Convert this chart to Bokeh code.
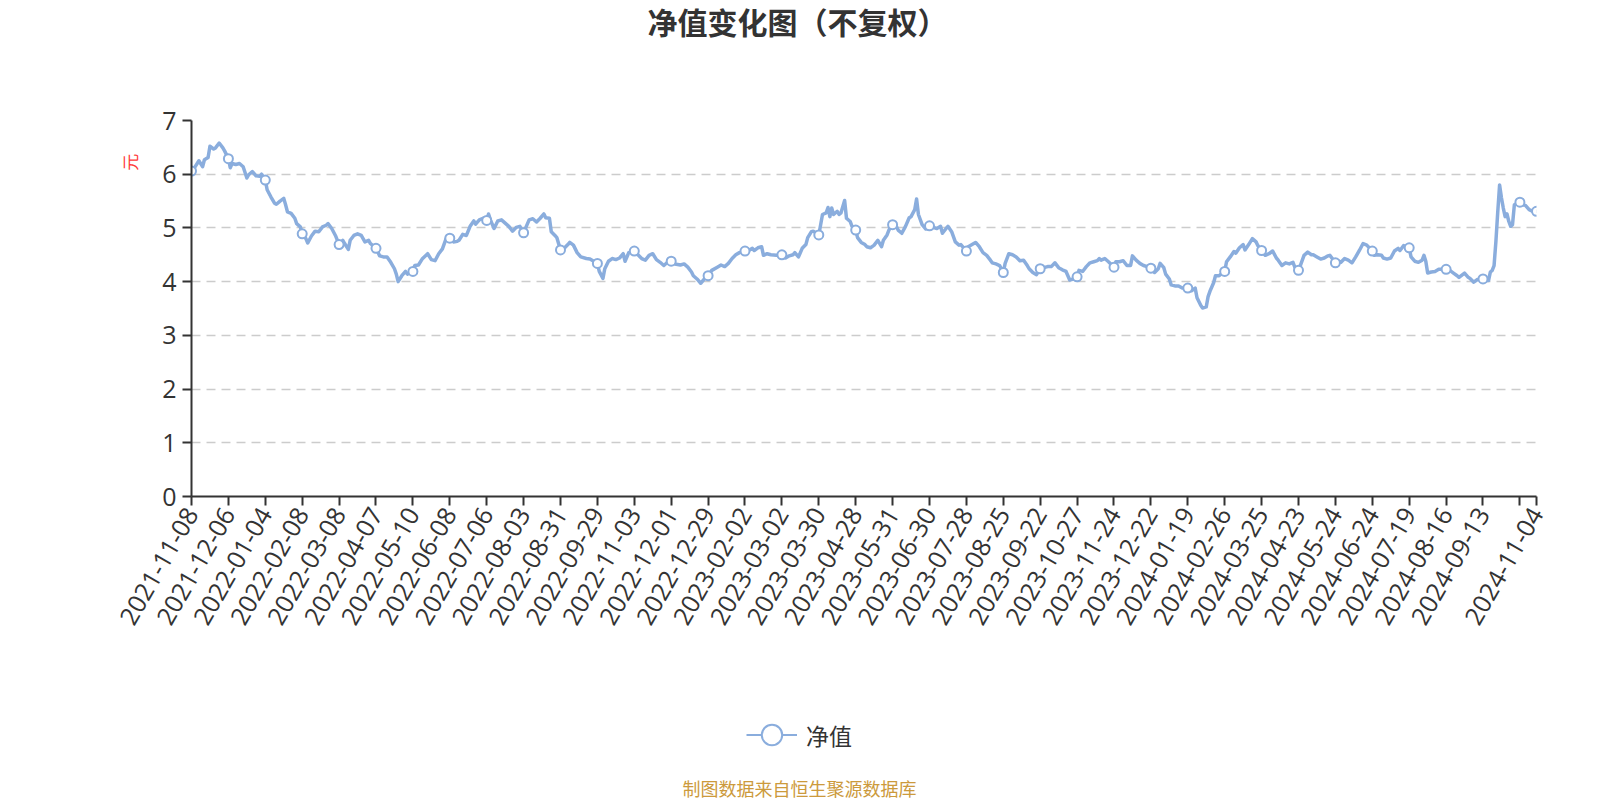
import math
from bokeh.plotting import figure
from bokeh.layouts import column
from bokeh.models import FixedTicker, Label, Legend, LegendItem, Range1d, LinearAxis
from bokeh.embed import file_html
from bokeh.resources import INLINE

title_text = "净值变化图（不复权）"
series_name = "净值"
y_unit = "元"
source_note = "制图数据来自恒生聚源数据库"

# trading-day index of each sampled point and the net value read there
day_index = [
    0, 2, 4, 6, 7, 9, 10, 12, 13, 15, 17, 18, 20, 21, 22, 24, 26, 28, 30, 31, 33, 35, 37, 38,
    40, 41, 43, 45, 46, 48, 50, 51, 52, 54, 56, 57, 59, 60, 62, 63, 65, 67, 69, 71, 73, 74, 76, 78,
    80, 82, 83, 85, 86, 88, 90, 92, 94, 96, 97, 100, 102, 104, 106, 108, 110, 111, 112, 114, 116, 117,
    120, 121, 123, 125, 128, 130, 132, 134, 136, 138, 140, 142, 144, 145, 147, 149, 151, 153, 154, 156, 158,
    160, 161, 162, 164, 166, 168, 170, 172, 174, 176, 178, 180, 182, 183, 185, 187, 189, 191, 192, 194, 195, 197, 198,
    200, 202, 204, 205, 207, 209, 211, 214, 216, 218, 220, 221, 223, 224, 226, 228, 230, 232, 234, 235, 237,
    240, 242, 244, 246, 248, 250, 252, 254, 256, 258, 260, 262, 265, 267, 269, 271, 272, 274, 276, 278,
    280, 282, 285, 287, 289, 291, 293, 295, 297, 300, 302, 304, 305, 307, 309, 310, 312, 314, 317,
    320, 322, 324, 326, 327, 329, 331, 333, 334, 336, 337, 340, 341, 342, 344, 345, 346, 347, 348, 350, 351, 352, 354, 355, 357, 358,
    360, 361, 363, 365, 366, 368, 370, 372, 374, 375, 377, 378, 380, 382, 383, 385, 387, 389, 390, 392, 393, 394, 396, 398,
    400, 402, 404, 406, 407, 409, 410, 412, 414, 416, 417, 420, 421, 424, 425, 427, 429, 431, 433, 434, 436, 438,
    440, 441, 443, 445, 447, 449, 451, 453, 454, 456, 458, 460, 462, 464, 466, 468, 470, 472, 474, 476, 478,
    480, 481, 483, 485, 487, 489, 491, 492, 493, 495, 497, 500, 501, 503, 505, 507, 509, 510, 512, 514, 516, 518,
    520, 522, 524, 525, 527, 528, 530, 531, 533, 535, 537, 540, 542, 544, 545, 547, 548, 550, 551, 552, 554, 555, 557,
    560, 561, 563, 565, 566, 568, 570, 571, 573, 575, 577, 578, 580, 582, 584, 586, 588, 589, 591, 593, 595, 597, 598,
    600, 601, 603, 605, 607, 608, 610, 612, 614, 616, 617, 620, 622, 623, 625, 627, 629, 631, 633, 635, 637,
    640, 641, 643, 645, 646, 648, 650, 652, 654, 655, 657, 660, 661, 663, 665, 667, 668, 669, 670, 672, 674, 676,
    680, 682, 684, 686, 687, 690, 692, 693, 695, 697, 700, 701, 703, 704, 705, 706, 707, 708, 709, 710, 711, 712,
    713, 714, 715, 716, 717, 720, 721, 723, 725, 727, 729,
]
nav = [
    6.06, 6.14, 6.25, 6.14, 6.27, 6.31, 6.52, 6.47, 6.49, 6.58, 6.49, 6.43, 6.29, 6.12, 6.20, 6.18, 6.20, 6.14, 5.93, 5.99, 6.05, 5.97, 5.96, 6.00,
    5.89, 5.71, 5.58, 5.46, 5.44, 5.50, 5.55, 5.43, 5.30, 5.27, 5.18, 5.08, 5.02, 4.89, 4.80, 4.72, 4.85, 4.94, 4.93, 5.02, 5.05, 5.08, 4.99, 4.86,
    4.69, 4.77, 4.71, 4.60, 4.77, 4.86, 4.89, 4.86, 4.74, 4.77, 4.71, 4.62, 4.48, 4.46, 4.46, 4.36, 4.24, 4.14, 4.00, 4.11, 4.19, 4.14,
    4.19, 4.30, 4.31, 4.42, 4.52, 4.41, 4.39, 4.52, 4.61, 4.80, 4.81, 4.74, 4.75, 4.77, 4.88, 4.86, 5.03, 5.13, 5.07, 5.15, 5.18,
    5.14, 5.26, 5.15, 4.99, 5.13, 5.15, 5.09, 5.03, 4.94, 5.01, 5.03, 4.91, 5.07, 5.15, 5.17, 5.11, 5.18, 5.26, 5.19, 5.18, 4.93, 4.86, 4.82,
    4.59, 4.62, 4.69, 4.73, 4.68, 4.54, 4.46, 4.43, 4.42, 4.38, 4.34, 4.19, 4.06, 4.24, 4.38, 4.43, 4.41, 4.44, 4.52, 4.38, 4.54,
    4.57, 4.50, 4.43, 4.40, 4.49, 4.52, 4.41, 4.36, 4.30, 4.36, 4.38, 4.33, 4.31, 4.33, 4.27, 4.18, 4.11, 4.05, 3.97, 4.05,
    4.11, 4.21, 4.27, 4.31, 4.28, 4.34, 4.43, 4.50, 4.54, 4.57, 4.58, 4.62, 4.58, 4.63, 4.65, 4.49, 4.52, 4.50, 4.49,
    4.50, 4.44, 4.48, 4.50, 4.54, 4.46, 4.62, 4.69, 4.82, 4.93, 4.94, 4.87, 5.06, 5.25, 5.28, 5.38, 5.21, 5.37, 5.25, 5.31, 5.25, 5.28, 5.51, 5.18, 5.12, 5.03,
    4.96, 4.82, 4.73, 4.69, 4.65, 4.63, 4.68, 4.77, 4.65, 4.77, 4.87, 4.96, 5.06, 5.03, 4.96, 4.90, 5.03, 5.19, 5.21, 5.34, 5.54, 5.25, 5.06, 4.98,
    5.04, 5.01, 4.99, 5.03, 4.90, 4.99, 5.03, 4.93, 4.74, 4.68, 4.69, 4.57, 4.65, 4.71, 4.73, 4.65, 4.54, 4.49, 4.40, 4.35, 4.33, 4.30,
    4.17, 4.34, 4.52, 4.50, 4.46, 4.39, 4.40, 4.30, 4.24, 4.17, 4.13, 4.24, 4.26, 4.28, 4.28, 4.35, 4.26, 4.22, 4.19, 4.03, 4.05,
    4.09, 4.21, 4.19, 4.28, 4.35, 4.37, 4.39, 4.43, 4.40, 4.43, 4.37, 4.27, 4.37, 4.37, 4.39, 4.30, 4.30, 4.48, 4.40, 4.34, 4.30, 4.28,
    4.25, 4.17, 4.24, 4.34, 4.26, 4.14, 4.05, 3.94, 3.92, 3.92, 3.88, 3.88, 3.83, 3.88, 3.70, 3.56, 3.51, 3.53, 3.72, 3.82, 3.98, 4.11, 4.11,
    4.19, 4.37, 4.46, 4.56, 4.53, 4.63, 4.69, 4.59, 4.69, 4.80, 4.74, 4.67, 4.58, 4.49, 4.52, 4.57, 4.44, 4.40, 4.30, 4.35, 4.33, 4.36, 4.27,
    4.21, 4.30, 4.49, 4.55, 4.50, 4.50, 4.46, 4.42, 4.44, 4.48, 4.49, 4.35, 4.38, 4.36, 4.43, 4.40, 4.35, 4.46, 4.58, 4.71, 4.68,
    4.57, 4.49, 4.50, 4.49, 4.44, 4.42, 4.44, 4.57, 4.62, 4.58, 4.67, 4.63, 4.46, 4.38, 4.36, 4.40, 4.49, 4.38, 4.16, 4.18, 4.19, 4.23,
    4.23, 4.21, 4.16, 4.11, 4.08, 4.16, 4.08, 4.06, 3.99, 4.04, 4.05, 4.02, 4.02, 4.18, 4.21, 4.30, 4.75, 5.30, 5.80, 5.56, 5.37, 5.21,
    5.26, 5.12, 5.03, 5.06, 5.43, 5.48, 5.43, 5.42, 5.34, 5.31, 5.31,
]

tick_labels = [
    "2021-11-08", "2021-12-06", "2022-01-04", "2022-02-08", "2022-03-08", "2022-04-07",
    "2022-05-10", "2022-06-08", "2022-07-06", "2022-08-03", "2022-08-31", "2022-09-29",
    "2022-11-03", "2022-12-01", "2022-12-29", "2023-02-02", "2023-03-02", "2023-03-30",
    "2023-04-28", "2023-05-31", "2023-06-30", "2023-07-28", "2023-08-25", "2023-09-22",
    "2023-10-27", "2023-11-24", "2023-12-22", "2024-01-19", "2024-02-26", "2024-03-25",
    "2024-04-23", "2024-05-24", "2024-06-24", "2024-07-19", "2024-08-16", "2024-09-13",
    "", "2024-11-04",
]
label_step = 20
last_day = day_index[-1]
tick_pos = list(range(0, last_day, label_step)) + [last_day]

y_ticks = [0, 1, 2, 3, 4, 5, 6, 7]
unit_label_at = 6.38

LINE_COLOR = "#8AADDD"
TEXT = "#333333"
FONT = "Noto Sans CJK SC"
NUM_FONT = "Open Sans"

PAGE_W = 1600
TOP_H, MAIN_H, BOT_H = 48, 652, 100
BL, BT = 191, 72
FW, FH = 1345, 376


def blank_fig(h):
    # frames of a column are aligned with the main chart's frame, so the
    # x range is expressed in page pixels (BL .. BL+FW)
    f = figure(width=PAGE_W, height=h, output_backend="svg", toolbar_location=None,
               x_range=Range1d(BL, BL + FW), y_range=Range1d(0, h),
               x_axis_type=None, y_axis_type=None,
               min_border_left=BL, min_border_right=PAGE_W - BL - FW,
               min_border_top=0, min_border_bottom=0)
    f.outline_line_color = None
    f.background_fill_color = "white"
    f.border_fill_color = "white"
    return f


# ---- title strip
top = blank_fig(TOP_H)
top.add_layout(Label(x=797, y=TOP_H - 20, text=title_text, text_align="center",
                     text_baseline="middle", text_font=FONT, text_font_style="bold",
                     text_font_size="30px", text_color=TEXT))

# ---- main chart
p = figure(width=PAGE_W, height=MAIN_H, output_backend="svg", toolbar_location=None,
           x_range=Range1d(0, last_day), y_range=Range1d(0, 7),
           min_border_left=BL, min_border_right=PAGE_W - BL - FW,
           min_border_top=BT, min_border_bottom=MAIN_H - BT - FH)
p.outline_line_color = None
p.background_fill_color = "white"
p.border_fill_color = "white"

p.xgrid.visible = False
p.ygrid.grid_line_color = "#cccccc"
p.ygrid.grid_line_width = 1.6
p.ygrid.grid_line_dash = "9 6"

p.yaxis.ticker = FixedTicker(ticks=y_ticks)
p.xaxis.ticker = FixedTicker(ticks=tick_pos)
p.xaxis.major_label_overrides = {t: lab for t, lab in zip(tick_pos, tick_labels)}
p.xaxis.major_label_orientation = math.pi / 3

for ax in (p.xaxis, p.yaxis):
    ax.axis_line_color = TEXT
    ax.axis_line_width = 2
    ax.major_tick_line_color = TEXT
    ax.major_tick_line_width = 2
    ax.major_tick_out = 9
    ax.major_tick_in = 0
    ax.minor_tick_line_color = None
    ax.major_label_text_color = TEXT
    ax.major_label_text_font = NUM_FONT
    ax.major_label_text_font_size = "25px"
p.yaxis.major_label_standoff = 6
p.xaxis.major_label_standoff = 4

# unit name shown as the single label of an extra, line-less left axis
unit_axis = LinearAxis(ticker=FixedTicker(ticks=[unit_label_at]),
                       major_label_overrides={unit_label_at: y_unit},
                       major_label_orientation=math.pi / 2,
                       axis_line_color=None, major_tick_line_color=None,
                       minor_tick_line_color=None, major_label_standoff=24,
                       major_label_text_color="#ff3b3b", major_label_text_font=FONT,
                       major_label_text_font_size="17px")
p.add_layout(unit_axis, "left")

p.line(day_index, nav, line_color=LINE_COLOR, line_width=3.5, line_join="round")
mk_x = [d for d in day_index if d % label_step == 0 or d == last_day]
mk_y = [v for d, v in zip(day_index, nav) if d % label_step == 0 or d == last_day]
p.scatter(mk_x, mk_y, size=9, fill_color="white", line_color=LINE_COLOR, line_width=2)

# ---- legend + source strip
bot = blank_fig(BOT_H)
nan = float("nan")
leg_line = bot.line([nan], [nan], line_color=LINE_COLOR, line_width=2)
leg_dot = bot.scatter([nan], [nan], fill_color="white", line_color=LINE_COLOR, line_width=2)
legend = Legend(items=[LegendItem(label=series_name, renderers=[leg_line, leg_dot])],
                location=(746 - BL, 38), orientation="horizontal",
                glyph_width=51, glyph_height=55, label_standoff=9,
                padding=0, margin=0, spacing=0,
                border_line_color=None, background_fill_alpha=0,
                label_text_font=FONT, label_text_font_size="23px", label_text_color=TEXT)
bot.add_layout(legend, "center")
bot.add_layout(Label(x=799, y=BOT_H - 87, text=source_note, text_align="center",
                     text_baseline="middle", text_font=FONT, text_font_size="18px",
                     text_color="#cc9a3c"))

layout = column(top, p, bot, spacing=0)
open("out.html", "w").write(file_html(layout, INLINE))
